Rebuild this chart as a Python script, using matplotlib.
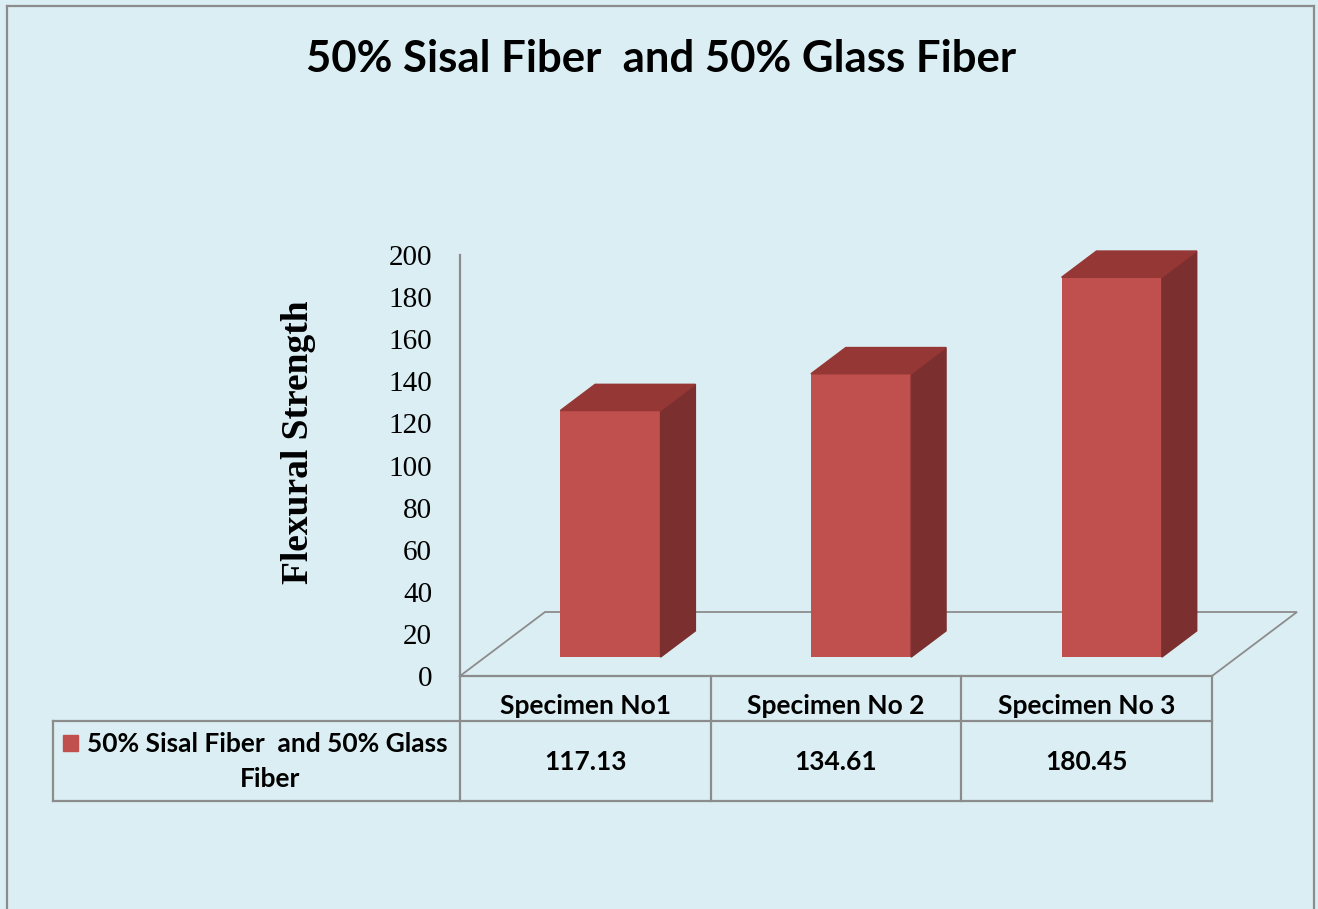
import matplotlib.pyplot as plt
import numpy as np
from matplotlib.lines import Line2D
from matplotlib.patches import Polygon, Rectangle

# flexural strength per specimen
categories = ["Specimen No1", "Specimen No 2", "Specimen No 3"]
values = [117.13, 134.61, 180.45]
series_name = "50% Sisal Fiber  and 50% Glass Fiber"
y_ticks = list(range(0, 201, 20))

W, H = 1318, 909
BG = "#DBEEF3"
LINE = "#8C8C8C"
FRONT, TOP, SIDE = "#C0504D", "#943735", "#7B2F2E"
SANS = ["Lato", "DejaVu Sans"]
SERIF = ["Liberation Serif", "DejaVu Serif"]
TABLE_FS = 19

fig = plt.figure(figsize=(W / 100, H / 100), dpi=100, facecolor=BG)


def fx(px):
    return px / W


def fy(py):
    return 1 - py / H


def hline(y, x0, x1, lw=1.6):
    fig.add_artist(Line2D([fx(x0), fx(x1)], [fy(y), fy(y)], color=LINE, lw=lw))


def vline(x, y0, y1, lw=1.6):
    fig.add_artist(Line2D([fx(x), fx(x)], [fy(y0), fy(y1)], color=LINE, lw=lw))


# outer chart frame
vline(7, 6, H)
hline(6, 7, 1314)
vline(1314, 6, H)

fig.text(fx(661), fy(59), series_name, ha="center", va="center",
         fontsize=31.5, fontweight="bold", family=SANS)

# value axis sits on the front-left edge of the floor
ax = fig.add_axes([fx(460), fy(676), (1212 - 460) / W, (676 - 255) / H])
ax.set_facecolor("none")
ax.set_xlim(0, 3)
ax.set_ylim(0, 200)
for side in ["top", "right", "bottom"]:
    ax.spines[side].set_visible(False)
ax.spines["left"].set_color(LINE)
ax.spines["left"].set_linewidth(1.6)
ax.set_xticks([])
ax.set_yticks(y_ticks)
ax.tick_params(axis="y", length=0, pad=20, labelsize=21)
for lbl in ax.get_yticklabels():
    lbl.set_family(SERIF)

fig.text(fx(299), fy(442), "Flexural Strength", rotation=90, ha="center",
         va="center", fontsize=27, fontweight="bold", family=SERIF)

# floor depth in screen pixels (oblique projection)
FLOOR_DX, FLOOR_DY = 0.85 * fig.dpi, 0.64 * fig.dpi


def depth_shift(frac):
    x0, y0 = ax.transData.transform((0, 0))
    x1, y1 = ax.transData.inverted().transform(
        (x0 + frac * FLOOR_DX, y0 + frac * FLOOR_DY))
    return x1, y1


bx, by = depth_shift(1.0)
floor = Polygon([(0, 0), (3, 0), (3 + bx, by), (bx, by)], closed=True,
                fill=False, edgecolor=LINE, lw=1.3, clip_on=False, zorder=1)
ax.add_patch(floor)

fdx, fdy = depth_shift(0.295)
kdx, kdy = depth_shift(0.705)
xs = np.arange(len(values)) + 0.5
bw = 0.4
ax.bar(xs + fdx, values, width=bw, bottom=fdy, color=FRONT, zorder=3,
       clip_on=False)
for x, v in zip(xs, values):
    x0, x1 = x - bw / 2, x + bw / 2
    side = Polygon([(x1 + fdx, fdy), (x1 + kdx, kdy), (x1 + kdx, v + kdy),
                    (x1 + fdx, v + fdy)], closed=True, color=SIDE,
                   clip_on=False, zorder=3)
    top = Polygon([(x0 + fdx, v + fdy), (x1 + fdx, v + fdy),
                   (x1 + kdx, v + kdy), (x0 + kdx, v + kdy)], closed=True,
                  color=TOP, clip_on=False, zorder=3)
    ax.add_patch(side)
    ax.add_patch(top)

# data table under the plot
col_px = ax.transData.transform([(i, 0) for i in range(len(values) + 1)])[:, 0]
row_top, row_mid, row_bot = 676, 721, 801
legend_left = 53
hline(row_top, col_px[0], col_px[-1])
hline(row_mid, legend_left, col_px[-1])
hline(row_bot, legend_left, col_px[-1])
vline(legend_left, row_mid, row_bot)
for c in col_px:
    vline(c, row_top, row_bot)

for i, (cat, v) in enumerate(zip(categories, values)):
    cx = (col_px[i] + col_px[i + 1]) / 2
    fig.text(fx(cx), fy(706), cat, ha="center", va="center",
             fontsize=TABLE_FS, fontweight="bold", family=SANS)
    fig.text(fx(cx), fy(762), f"{v:.2f}", ha="center", va="center",
             fontsize=TABLE_FS, fontweight="bold", family=SANS)

first, second = series_name.rsplit(" ", 1)
fig.add_artist(Rectangle((fx(63), fy(751)), 15 / W, 16 / H, color=FRONT))
fig.text(fx(87), fy(744), first, ha="left", va="center", fontsize=TABLE_FS,
         fontweight="bold", family=SANS)
fig.text(fx(270), fy(779), second, ha="center", va="center",
         fontsize=TABLE_FS, fontweight="bold", family=SANS)

fig.savefig("out.png", dpi=100, facecolor=BG)
